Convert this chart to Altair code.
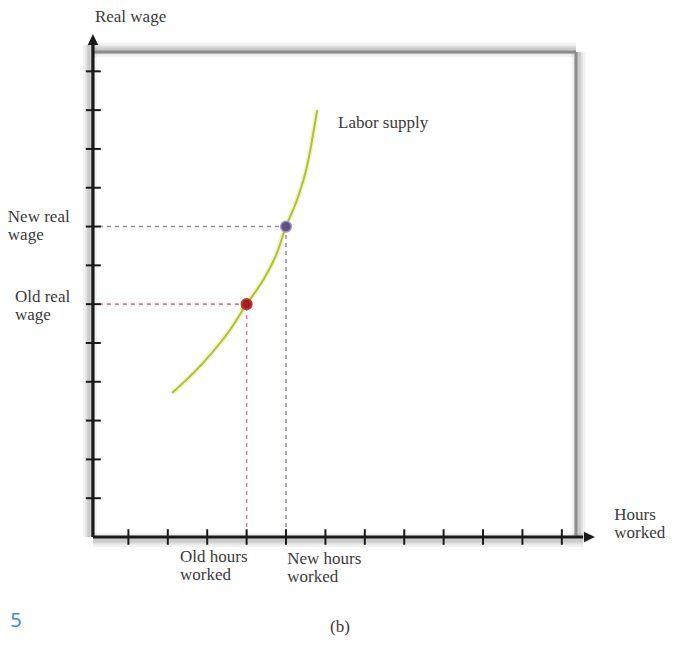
import altair as alt
import pandas as pd

# ---- data ----
x_ticks = [1, 2, 3, 4, 5, 6, 7, 8, 9, 10, 11, 12]
y_ticks = [1, 2, 3, 4, 5, 6, 7, 8, 9, 10, 11, 12]
curve_x = [2.11, 2.89, 3.58, 4.0, 4.42, 4.77, 5.0, 5.28, 5.53, 5.79]
curve_y = [3.71, 4.48, 5.34, 6.0, 6.62, 7.32, 8.0, 8.69, 9.54, 11.0]
point_names = ["Old", "New"]
point_x = [4.0, 5.0]
point_y = [6.0, 8.0]
point_fill = ["#a3201f", "#5f4f80"]
point_stroke = ["#c0403a", "#a396c8"]
guide_colors_h = ["#dc7c86", "#9485b2"]
guide_colors_v = ["#dc8496", "#9e94c0"]

AX0 = 0.1      # position of the vertical (wage) axis
X_END = 12.54  # end of horizontal axis shaft
Y_END = 12.68  # end of vertical axis shaft
FRAME_X = 12.36
FRAME_Y = 12.5

XS = alt.Scale(domain=[0, 13.4], nice=False, zero=False)
YS = alt.Scale(domain=[0, 13.4], nice=False, zero=False)
FONT = "Liberation Serif"


def X(f="x"):
    return alt.X(f"{f}:Q", scale=XS, axis=None)


def Y(f="y"):
    return alt.Y(f"{f}:Q", scale=YS, axis=None)


# ---- shadows ----
shadow_rows = []
for w, op in [(14, 0.05), (9, 0.07), (5, 0.09)]:
    shadow_rows += [
        dict(x=AX0 - 0.08, y=0, x2=AX0 - 0.08, y2=Y_END, w=w, op=op),
        dict(x=AX0, y=-0.08, x2=X_END, y2=-0.08, w=w, op=op),
        dict(x=AX0, y=FRAME_Y + 0.05, x2=FRAME_X, y2=FRAME_Y + 0.05, w=w, op=op),
        dict(x=FRAME_X + 0.06, y=0, x2=FRAME_X + 0.06, y2=FRAME_Y, w=w, op=op),
    ]
shadows = alt.Chart(pd.DataFrame(shadow_rows)).mark_rule(color="#000000").encode(
    x=X(), y=Y(), x2="x2:Q", y2="y2:Q",
    strokeWidth=alt.StrokeWidth("w:Q", scale=None),
    opacity=alt.Opacity("op:Q", scale=None),
)

# ---- frame ----
frame_df = pd.DataFrame([
    dict(x=AX0, y=FRAME_Y, x2=FRAME_X, y2=FRAME_Y),
    dict(x=FRAME_X, y=0, x2=FRAME_X, y2=FRAME_Y),
])
frame = alt.Chart(frame_df).mark_rule(color="#8c8c8c", strokeWidth=3).encode(
    x=X(), y=Y(), x2="x2:Q", y2="y2:Q")

# ---- labor supply curve ----
curve_df = pd.DataFrame({"x": curve_x, "y": curve_y})
curve_glow = alt.Chart(curve_df).mark_line(
    interpolate="monotone", color="#e9ee9c", strokeWidth=5, opacity=0.6
).encode(x=X(), y=Y())
curve = alt.Chart(curve_df).mark_line(
    interpolate="monotone", color="#b1c03a", strokeWidth=2
).encode(x=X(), y=Y())

# ---- dashed guides ----
guide_rows = []
for i in range(2):
    guide_rows.append(dict(x=AX0 + 0.15, y=point_y[i], x2=point_x[i], y2=point_y[i],
                           c=guide_colors_h[i]))
    guide_rows.append(dict(x=point_x[i], y=0.05, x2=point_x[i], y2=point_y[i],
                           c=guide_colors_v[i]))
guides = alt.Chart(pd.DataFrame(guide_rows)).mark_rule(
    strokeWidth=1.6, strokeDash=[4, 4]
).encode(x=X(), y=Y(), x2="x2:Q", y2="y2:Q", color=alt.Color("c:N", scale=None))

# ---- axes ----
axes_df = pd.DataFrame([
    dict(x=AX0, y=0, x2=AX0, y2=Y_END),
    dict(x=AX0, y=0, x2=X_END, y2=0),
])
axes = alt.Chart(axes_df).mark_rule(color="#1a1a1a", strokeWidth=3.2).encode(
    x=X(), y=Y(), x2="x2:Q", y2="y2:Q")

ytick_df = pd.DataFrame({"y": y_ticks})
ytick_df["x"] = AX0 - 0.18
ytick_df["x2"] = AX0 + 0.2
yticks = alt.Chart(ytick_df).mark_rule(color="#1a1a1a", strokeWidth=2).encode(
    x=X(), x2="x2:Q", y=Y())

xtick_df = pd.DataFrame({"x": x_ticks})
xtick_df["y"] = -0.2
xtick_df["y2"] = 0.2
xticks = alt.Chart(xtick_df).mark_rule(color="#1a1a1a", strokeWidth=2).encode(
    x=X(), y=Y(), y2="y2:Q")

arrow_up = alt.Chart(pd.DataFrame({"x": [AX0], "y": [12.82]})).mark_point(
    shape="M0,-1L0.95,1L-0.95,1Z", filled=True, color="#1a1a1a", opacity=1, size=121
).encode(x=X(), y=Y())
arrow_right = alt.Chart(pd.DataFrame({"x": [12.70], "y": [0]})).mark_point(
    shape="M1,0L-1,-0.95L-1,0.95Z", filled=True, color="#1a1a1a", opacity=1, size=121
).encode(x=X(), y=Y())

# ---- equilibrium points ----
pts_df = pd.DataFrame({"name": point_names, "x": point_x, "y": point_y,
                       "f": point_fill, "s": point_stroke})
points = alt.Chart(pts_df).mark_circle(size=115, opacity=1, strokeWidth=1.5).encode(
    x=X(), y=Y(),
    fill=alt.Fill("f:N", scale=None),
    stroke=alt.Stroke("s:N", scale=None),
)

# ---- labels ----
label_text = ["Real wage", "Labor supply", "New real\nwage", "Old real\nwage",
              "Old hours\nworked", "New hours\nworked", "Hours\nworked"]
label_x = [0.15, 6.32, -2.06, -1.88, 2.31, 5.03, 13.33]
label_y = [13.26, 10.54, 8.12, 6.06, -0.64, -0.70, 0.44]
labels = alt.Chart(pd.DataFrame({"t": label_text, "x": label_x, "y": label_y})).mark_text(
    align="left", baseline="alphabetic", font=FONT, fontSize=17, color="#3a3a3a",
    lineBreak="\n", lineHeight=18
).encode(x=X(), y=Y(), text="t:N")

caption = alt.Chart(pd.DataFrame({"t": ["(b)"], "x": [6.37], "y": [-2.45]})).mark_text(
    align="center", baseline="alphabetic", font=FONT, fontSize=17, color="#3a3a3a"
).encode(x=X(), y=Y(), text="t:N")

page_no = alt.Chart(pd.DataFrame({"t": ["5"], "x": [-2.0], "y": [-2.33]})).mark_text(
    align="left", baseline="alphabetic", font="Noto Sans", fontSize=20, color="#3a8fdc"
).encode(x=X(), y=Y(), text="t:N")

chart = alt.layer(
    shadows, frame, curve_glow, curve, guides, axes, yticks, xticks,
    arrow_up, arrow_right, points, labels, caption, page_no
).properties(
    width=528, height=520,
    autosize=alt.AutoSizeParams(type="none"),
    padding={"left": 81, "top": 9, "right": 48, "bottom": 100},
    background="white",
).configure_view(stroke=None)

chart.save("out.html", embed_options={"renderer": "svg", "actions": False})
